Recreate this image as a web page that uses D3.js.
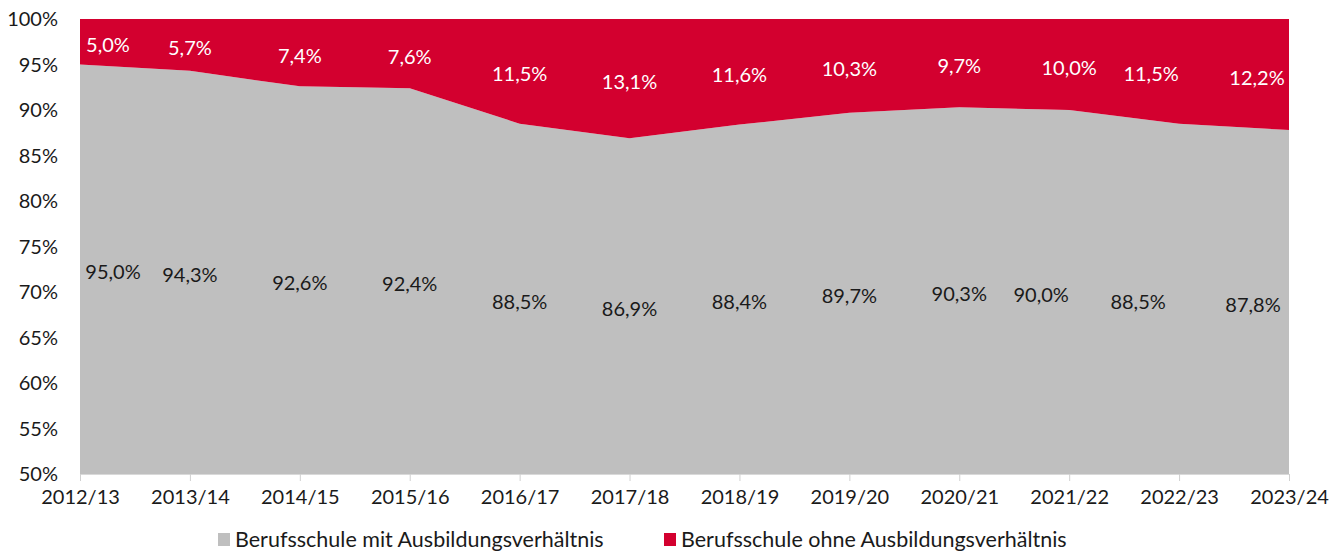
<!DOCTYPE html>
<html>
<head>
<meta charset="utf-8">
<script src="https://cdn.jsdelivr.net/npm/d3@7"></script>
<style>
  body { margin: 0; background: #fff; }
  svg { font-family: Lato, "Open Sans", sans-serif; }
</style>
</head>
<body>
<div id="chart"></div>
<script>
const years = ["2012/13", "2013/14", "2014/15", "2015/16", "2016/17", "2017/18",
  "2018/19", "2019/20", "2020/21", "2021/22", "2022/23", "2023/24"];
const mitAusbildung = [95.0, 94.3, 92.6, 92.4, 88.5, 86.9, 88.4, 89.7, 90.3, 90.0, 88.5, 87.8];
const ohneAusbildung = [5.0, 5.7, 7.4, 7.6, 11.5, 13.1, 11.6, 10.3, 9.7, 10.0, 11.5, 12.2];
const yTicks = [50, 55, 60, 65, 70, 75, 80, 85, 90, 95, 100];
const seriesNames = ["Berufsschule mit Ausbildungsverhältnis", "Berufsschule ohne Ausbildungsverhältnis"];
const colors = ["#bfbfbf", "#d3002f"];

// hand-placed label nudges (px) as in the original chart
const nudgeMit = [33, 0, 0, 0, 0, 0, 0, 0, 0, -28, -41, -36];
const nudgeOhne = [28, 0, 0, 0, 0, 0, 0, 0, 0, 0, -28, -32];

const width = 1344, height = 554;
const margin = { top: 19, right: 55, bottom: 80, left: 80 };
const fontSize = 20;

const svg = d3.select("#chart").append("svg")
  .attr("width", width).attr("height", height);

const x = d3.scalePoint().domain(years).range([margin.left, width - margin.right]);
const y = d3.scaleLinear().domain([50, 100]).range([height - margin.bottom, margin.top]);

const fmt = v => v.toFixed(1).replace(".", ",") + "%";

const rows = years.map((yr, i) => ({ i, year: yr, mit: mitAusbildung[i], ohne: ohneAusbildung[i] }));

const areaMit = d3.area()
  .x(d => x(d.year))
  .y0(y(50))
  .y1(d => y(d.mit));
const areaOhne = d3.area()
  .x(d => x(d.year))
  .y0(d => y(d.mit))
  .y1(d => y(d.mit + d.ohne));

svg.append("path").datum(rows).attr("d", areaMit).attr("fill", colors[0]);
svg.append("path").datum(rows).attr("d", areaOhne).attr("fill", colors[1]);

// y axis labels
svg.append("g")
  .selectAll("text")
  .data(yTicks)
  .join("text")
  .attr("x", 58)
  .attr("y", d => y(d))
  .attr("dy", "0.35em")
  .attr("text-anchor", "end")
  .attr("font-size", fontSize)
  .attr("fill", "#1a1a1a")
  .text(d => d + "%");

// x axis
const xAxis = svg.append("g")
  .attr("transform", `translate(0,${y(50)})`)
  .call(d3.axisBottom(x).tickSize(7).tickPadding(9).tickSizeOuter(0));
xAxis.select(".domain").attr("stroke", "#d9d9d9");
xAxis.selectAll(".tick line").attr("stroke", "#d0d0d0");
xAxis.selectAll(".tick text")
  .attr("font-size", fontSize)
  .attr("font-family", "Lato, 'Open Sans', sans-serif")
  .attr("fill", "#1a1a1a");

// data labels
svg.append("g")
  .selectAll("text")
  .data(rows)
  .join("text")
  .attr("x", d => x(d.year) + nudgeMit[d.i])
  .attr("y", d => (y(50) + y(d.mit)) / 2 + 3)
  .attr("dy", "0.35em")
  .attr("text-anchor", "middle")
  .attr("font-size", fontSize)
  .attr("fill", "#1a1a1a")
  .text(d => fmt(d.mit));

svg.append("g")
  .selectAll("text")
  .data(rows)
  .join("text")
  .attr("x", d => x(d.year) + nudgeOhne[d.i])
  .attr("y", d => (y(d.mit) + y(d.mit + d.ohne)) / 2 + 3)
  .attr("dy", "0.35em")
  .attr("text-anchor", "middle")
  .attr("font-size", fontSize)
  .attr("fill", "#fff")
  .text(d => fmt(d.ohne));

// legend
const legend = svg.append("g").attr("transform", `translate(0,547)`);
const legendX = [218, 664];
seriesNames.forEach((name, i) => {
  const g = legend.append("g").attr("transform", `translate(${legendX[i]},0)`);
  g.append("rect").attr("x", 0).attr("y", -14).attr("width", 12).attr("height", 13).attr("fill", colors[i]);
  g.append("text").attr("x", 17).attr("y", 0).attr("font-size", 21.5).attr("fill", "#1a1a1a").text(name);
});
</script>
</body>
</html>
